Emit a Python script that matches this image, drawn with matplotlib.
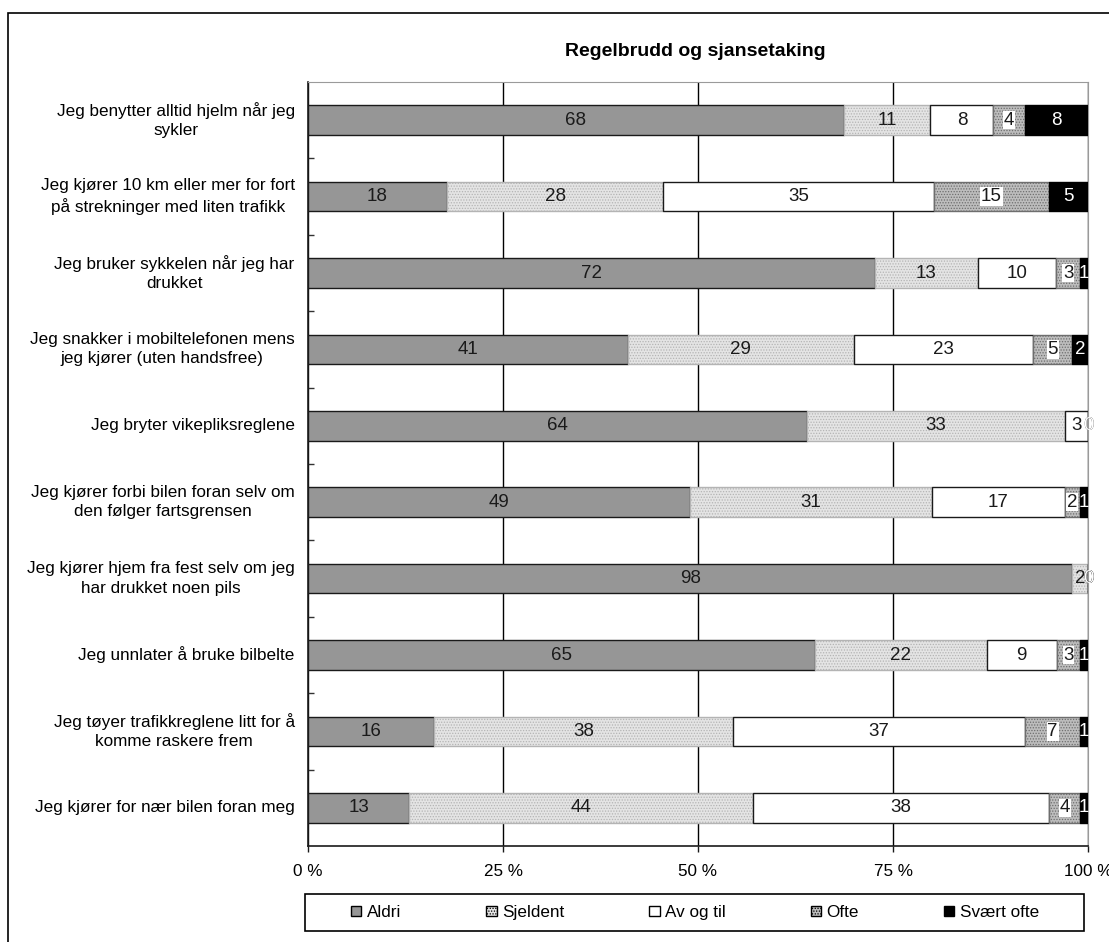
import numpy as np
import matplotlib
matplotlib.use("Agg")
import matplotlib.pyplot as plt
from matplotlib.patches import Rectangle, Patch

plt.rcParams['font.family'] = ['Liberation Sans', 'DejaVu Sans']
plt.rcParams['hatch.linewidth'] = 0.6

# data
categories = [
    "Jeg benytter alltid hjelm når jeg\nsykler",
    "Jeg kjører 10 km eller mer for fort\npå strekninger med liten trafikk",
    "Jeg bruker sykkelen når jeg har\ndrukket",
    "Jeg snakker i mobiltelefonen mens\njeg kjører (uten handsfree)",
    "Jeg bryter vikepliksreglene",
    "Jeg kjører forbi bilen foran selv om\nden følger fartsgrensen",
    "Jeg kjører hjem fra fest selv om jeg\nhar drukket noen pils",
    "Jeg unnlater å bruke bilbelte",
    "Jeg tøyer trafikkreglene litt for å\nkomme raskere frem",
    "Jeg kjører for nær bilen foran meg",
]
series_names = ["Aldri", "Sjeldent", "Av og til", "Ofte", "Svært ofte"]
aldri = [68, 18, 72, 41, 64, 49, 98, 65, 16, 13]
sjeldent = [11, 28, 13, 29, 33, 31, 2, 22, 38, 44]
av_og_til = [8, 35, 10, 23, 3, 17, 0, 9, 37, 38]
ofte = [4, 15, 3, 5, 0, 2, 0, 3, 7, 4]
svaert_ofte = [8, 5, 1, 2, 0, 1, 0, 1, 1, 1]
x_ticks = [0, 25, 50, 75, 100]
x_ticklabels = ["0 %", "25 %", "50 %", "75 %", "100 %"]

values = np.array([aldri, sjeldent, av_og_til, ofte, svaert_ofte], dtype=float)
pct = values / values.sum(axis=0) * 100

FS = 12.3
FS_VAL = 13.5

# styles per series
styles = [
    dict(fc='#969696', hatch=None, ec='#1a1a1a', tc='#1a1a1a', box=False),
    dict(fc='#e4e4e4', hatch='......', ec='#b4b4b4', tc='#1a1a1a', box=False),
    dict(fc='white', hatch=None, ec='#1a1a1a', tc='#1a1a1a', box=False),
    dict(fc='#bdbdbd', hatch='......', ec='#6e6e6e', tc='#1a1a1a', box=True),
    dict(fc='black', hatch=None, ec='black', tc='white', box=False),
]

fig = plt.figure(figsize=(11.09, 9.42), dpi=100)
ax = fig.add_axes([308/1109, 1 - 846/942, 780/1109, 764/942])

y = np.arange(len(categories))
left = np.zeros(len(categories))
for i, name in enumerate(series_names):
    st = styles[i]
    ax.barh(y, pct[i], left=left, height=0.39, color=st['fc'],
            edgecolor=st['ec'], linewidth=1.0, hatch=st['hatch'],
            label=name, zorder=3)
    for j in range(len(categories)):
        xc = left[j] + pct[i][j] / 2
        kw = {}
        if st['box'] and values[i][j] > 0:
            kw['bbox'] = dict(facecolor='white', edgecolor='none', pad=0.5)
        ax.text(xc, y[j], f"{int(values[i][j])}", ha='center', va='center',
                fontsize=FS_VAL, color=st['tc'], zorder=5, **kw)
    left += pct[i]

ax.set_xlim(0, 100)
ax.set_ylim(len(categories) - 0.5, -0.5)
ax.set_xticks(x_ticks)
ax.set_xticklabels(x_ticklabels, fontsize=FS)
ax.tick_params(axis='x', direction='out', length=4, width=1, pad=9, color='#1a1a1a')
ax.set_yticks(np.arange(len(categories) - 1) + 0.5)
ax.set_yticklabels([])
ax.tick_params(axis='y', direction='in', length=4, width=1, color='#333333')

# category labels, centred lines, right edge near the axis
for j, lab in enumerate(categories):
    ax.text(-1.7, y[j], lab, ha='right', va='center', fontsize=FS,
            linespacing=1.35, multialignment='center')

ax.xaxis.grid(True, color='black', linewidth=1, zorder=0)
for s in ['top', 'right']:
    ax.spines[s].set_color('#9a9a9a')
for s in ['left', 'bottom']:
    ax.spines[s].set_color('#1a1a1a')
    ax.spines[s].set_linewidth(1.2)

fig.text(695/1109, 1 - 52/942, "Regelbrudd og sjansetaking", ha='center',
         va='center', fontsize=14, fontweight='bold')

# legend: box drawn separately, entries centred inside it
fig.patches.append(Rectangle((305/1109, 1 - 931/942), 779/1109, 37/942,
                             transform=fig.transFigure, fill=False,
                             edgecolor='black', linewidth=1.2))
handles = [Patch(facecolor=st['fc'], edgecolor='black', hatch=st['hatch'],
                 linewidth=1) for st in styles]
fig.legend(handles, series_names, ncol=5, loc='center',
           bbox_to_anchor=(695/1109, 1 - 912.5/942),
           fontsize=FS, frameon=False, handlelength=0.6, handleheight=0.6,
           handletextpad=0.3, columnspacing=5.0)

# outer chart frame
fig.patches.append(Rectangle((8/1109, -0.1), 2, 1 - 13/942 + 0.1,
                             transform=fig.transFigure, fill=False,
                             edgecolor='black', linewidth=1.2))

fig.savefig("out.png", dpi=100)
